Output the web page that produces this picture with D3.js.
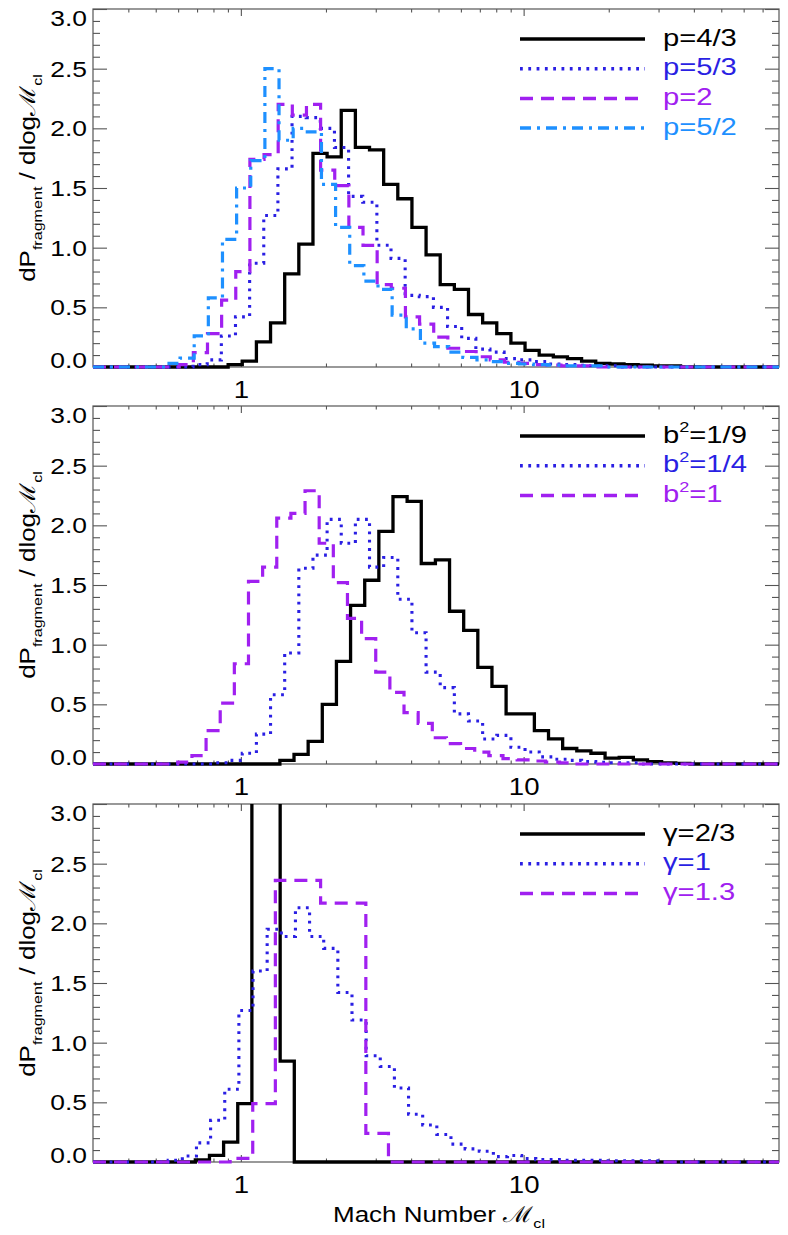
<!DOCTYPE html>
<html>
<head>
<meta charset="utf-8">
<script src="https://cdn.jsdelivr.net/npm/d3@7"></script>
<style>
  body { margin: 0; background: #fff; }
  svg { display: block; }
  text { font-family: "Liberation Sans", Arial, Helvetica, sans-serif; }
</style>
</head>
<body>
<div class="chart"></div>
<script>
// histogram bins are regular in log10(Mach); each series keeps the log10 of its first bin edge
const binWidth = 0.05;

// top panel: p
const p43Start = -0.045;
const p43 = [0.02, 0.05, 0.21, 0.37, 0.78, 1.03, 1.79, 1.76, 2.15, 1.84, 1.82, 1.53, 1.41, 1.17, 0.94, 0.69, 0.65, 0.44, 0.37, 0.28, 0.2, 0.14, 0.1, 0.085, 0.07, 0.05, 0.03, 0.025, 0.02, 0.015, 0.01, 0.01];
const p53Start = -0.169;
const p53 = [0.02, 0.06, 0.26, 0.42, 0.87, 1.27, 1.66, 2.1, 2.09, 2.0, 1.84, 1.43, 1.38, 1.02, 0.91, 0.6, 0.59, 0.5, 0.34, 0.24, 0.15, 0.125, 0.07, 0.06, 0.045, 0.025, 0.02, 0.015, 0.01, 0.01];
const p2Start = -0.218;
const p2 = [0.02, 0.12, 0.28, 0.56, 0.8, 1.74, 1.78, 2.2, 2.11, 2.2, 1.65, 1.52, 1.17, 1.02, 0.69, 0.66, 0.42, 0.36, 0.25, 0.157, 0.13, 0.086, 0.06, 0.04, 0.03, 0.02, 0.015, 0.01, 0.01];
const p52Start = -0.265;
const p52 = [0.03, 0.075, 0.26, 0.58, 1.07, 1.5, 1.73, 2.5, 1.9, 2.0, 1.97, 1.53, 1.17, 0.85, 0.72, 0.65, 0.435, 0.32, 0.2, 0.17, 0.125, 0.08, 0.06, 0.045, 0.03, 0.025, 0.02, 0.015, 0.01, 0.01, 0.01];

// middle panel: b^2
const b19Start = 0.138;
const b19 = [0.03, 0.08, 0.19, 0.5, 0.86, 1.33, 1.54, 1.95, 2.24, 2.2, 1.68, 1.71, 1.28, 1.12, 0.81, 0.65, 0.42, 0.42, 0.28, 0.21, 0.13, 0.11, 0.09, 0.05, 0.055, 0.035, 0.02, 0.01, 0.005];
const b14Start = -0.095;
const b14 = [0.01, 0.03, 0.09, 0.25, 0.58, 0.93, 1.64, 1.75, 2.05, 1.85, 2.05, 1.65, 1.73, 1.38, 1.1, 0.77, 0.64, 0.42, 0.36, 0.21, 0.24, 0.14, 0.1, 0.06, 0.04, 0.03, 0.02, 0.015, 0.01, 0.01];
const b1Start = -0.223;
const b1 = [0.015, 0.07, 0.28, 0.51, 0.84, 1.53, 1.65, 2.06, 2.1, 2.29, 1.85, 1.52, 1.22, 1.05, 0.77, 0.6, 0.43, 0.34, 0.22, 0.17, 0.13, 0.1, 0.07, 0.045, 0.035, 0.025, 0.015, 0.01];

// bottom panel: gamma
const g23Start = -0.161;
const g23 = [0.017, 0.056, 0.167, 0.49, 3.6, 3.6, 0.845];
const g1Start = -0.257;
const g1 = [0.015, 0.05, 0.16, 0.35, 0.61, 1.27, 1.6, 1.95, 1.89, 2.13, 1.89, 1.79, 1.42, 1.19, 0.89, 0.8, 0.62, 0.4, 0.31, 0.23, 0.15, 0.11, 0.09, 0.045, 0.055, 0.028, 0.02, 0.02, 0.015, 0.015, 0.015, 0.01, 0.01, 0.01, 0.01];
const g13Start = -0.038;
const g13Width = 0.08;
const g13 = [0.03, 0.49, 2.36, 2.36, 2.17, 2.17, 0.24];

const pLabels = ["p=4/3", "p=5/3", "p=2", "p=5/2"];
const bLabels = ["=1/9", "=1/4", "=1"];
const gLabels = ["γ=2/3", "γ=1", "γ=1.3"];

const xTicks = [1, 10];
const xMinorTicks = [0.4, 0.5, 0.6, 0.7, 0.8, 0.9, 2, 3, 4, 5, 6, 7, 8, 9, 20, 30, 40, 50, 60, 70];
const yTicks = [0, 0.5, 1, 1.5, 2, 2.5, 3];
const yMinorTicks = d3.range(1, 30).filter(d => d % 5 !== 0).map(d => d / 10);

const svgWidth = 788, svgHeight = 1235;
const plotLeft = 93, plotWidth = 686, plotHeight = 358;
const panelTops = [9, 406, 804];
const sx = 1.2; // the labels use a wide sans face
const axisColor = "#555";

const styles = {
  solid: {color: "#000000", dash: null, width: 3.3},
  dotted: {color: "#2a1fe3", dash: "2.8,5.5", width: 3.1},
  dashed: {color: "#a020f0", dash: "13,8", width: 3.2},
  dashdot: {color: "#1e90ff", dash: "11,6,3,6", width: 3.2}
};

const panels = [
  {top: panelTops[0], series: [
    {label: [{t: pLabels[0]}], values: p43, start: p43Start, width: binWidth, style: "solid"},
    {label: [{t: pLabels[1]}], values: p53, start: p53Start, width: binWidth, style: "dotted"},
    {label: [{t: pLabels[2]}], values: p2, start: p2Start, width: binWidth, style: "dashed"},
    {label: [{t: pLabels[3]}], values: p52, start: p52Start, width: binWidth, style: "dashdot"}
  ]},
  {top: panelTops[1], series: [
    {label: [{t: "b"}, {t: "2", sup: true}, {t: bLabels[0]}], values: b19, start: b19Start, width: binWidth, style: "solid"},
    {label: [{t: "b"}, {t: "2", sup: true}, {t: bLabels[1]}], values: b14, start: b14Start, width: binWidth, style: "dotted"},
    {label: [{t: "b"}, {t: "2", sup: true}, {t: bLabels[2]}], values: b1, start: b1Start, width: binWidth, style: "dashed"}
  ]},
  {top: panelTops[2], series: [
    {label: [{t: gLabels[0]}], values: g23, start: g23Start, width: binWidth, style: "solid"},
    {label: [{t: gLabels[1]}], values: g1, start: g1Start, width: binWidth, style: "dotted"},
    {label: [{t: gLabels[2]}], values: g13, start: g13Start, width: g13Width, style: "dashed"}
  ]}
];

let x = d3.scaleLog().domain([0.3, 80]).range([0, plotWidth]);
let y = d3.scaleLinear().domain([0, 3]).range([plotHeight, 0]);

let line = d3.line()
  .x(d => x(d[0]))
  .y(d => y(d[1]))
  .curve(d3.curveStepAfter);

function histPoints(s) {
  let pts = [[x.domain()[0], 0]];
  s.values.forEach((v, i) => pts.push([Math.pow(10, s.start + i * s.width), v]));
  pts.push([Math.pow(10, s.start + s.values.length * s.width), 0]);
  pts.push([x.domain()[1], 0]);
  return pts;
}

// tspans for sub/superscripts
function addParts(textSel, parts, size) {
  let shift = 0;
  parts.forEach(p => {
    let target = p.sub ? size * 0.3 : p.sup ? -size * 0.45 : 0;
    textSel.append("tspan")
      .attr("dy", target - shift)
      .attr("font-size", p.sub || p.sup ? size * 0.62 : size)
      .text(p.t);
    shift = target;
  });
}

let svg = d3.select(".chart")
  .append("svg")
  .attr("width", svgWidth)
  .attr("height", svgHeight);

panels.forEach((panel, pi) => {
  let g = svg.append("g")
    .attr("transform", `translate(${plotLeft}, ${panel.top})`);

  g.append("clipPath")
    .attr("id", `clip-${pi}`)
    .append("rect")
    .attr("x", -2)
    .attr("y", 0)
    .attr("width", plotWidth + 4)
    .attr("height", plotHeight + 3);

  // ticks point inward on all four sides
  let axes = [
    {axis: d3.axisLeft(y).tickValues(yTicks).tickSize(-14).tickPadding(6).tickFormat(d3.format(".1f")), t: "", labels: "y"},
    {axis: d3.axisLeft(y).tickValues(yMinorTicks).tickSize(-7).tickFormat(""), t: ""},
    {axis: d3.axisRight(y).tickValues(yTicks).tickSize(-14).tickFormat(""), t: `translate(${plotWidth},0)`},
    {axis: d3.axisRight(y).tickValues(yMinorTicks).tickSize(-7).tickFormat(""), t: `translate(${plotWidth},0)`},
    {axis: d3.axisBottom(x).tickValues(xTicks).tickSize(-7).tickFormat(d3.format("d")), t: `translate(0,${plotHeight})`, labels: "x"},
    {axis: d3.axisBottom(x).tickValues(xMinorTicks).tickSize(-3.5).tickFormat(""), t: `translate(0,${plotHeight})`},
    {axis: d3.axisTop(x).tickValues(xTicks).tickSize(-7).tickFormat(""), t: ""},
    {axis: d3.axisTop(x).tickValues(xMinorTicks).tickSize(-3.5).tickFormat(""), t: ""}
  ];
  axes.forEach(a => {
    let ag = g.append("g")
      .attr("transform", a.t)
      .call(a.axis)
      .attr("font-family", null)
      .attr("font-size", 22);
    ag.select(".domain").remove();
    ag.selectAll(".tick line").attr("stroke", axisColor).attr("stroke-width", 1.1);
    if (a.labels === "y") {
      ag.selectAll(".tick text")
        .attr("fill", "#000")
        .attr("dy", null)
        .attr("x", -6 / sx)
        .attr("y", d => d === 3 ? 16 : d === 0 ? 0 : 7.5)
        .attr("transform", `scale(${sx},1)`);
    }
    if (a.labels === "x") {
      ag.selectAll(".tick text")
        .attr("fill", "#000")
        .attr("dy", null)
        .attr("y", 31)
        .attr("font-size", 23)
        .attr("transform", `scale(${sx},1)`);
    }
  });

  g.append("rect")
    .attr("width", plotWidth)
    .attr("height", plotHeight)
    .attr("fill", "none")
    .attr("stroke", axisColor)
    .attr("stroke-width", 1.2);

  g.append("g")
    .attr("clip-path", `url(#clip-${pi})`)
    .selectAll("path")
    .data(panel.series)
    .enter()
    .append("path")
    .attr("d", s => line(histPoints(s)))
    .attr("fill", "none")
    .attr("stroke", s => styles[s.style].color)
    .attr("stroke-width", s => styles[s.style].width)
    .attr("stroke-dasharray", s => styles[s.style].dash)
    .attr("stroke-linejoin", "miter");

  // legend
  let legend = g.append("g").attr("class", "legend");
  panel.series.forEach((s, i) => {
    let ly = 30 + i * 29.7;
    legend.append("line")
      .attr("x1", 427)
      .attr("x2", 552)
      .attr("y1", ly)
      .attr("y2", ly)
      .attr("stroke", styles[s.style].color)
      .attr("stroke-width", styles[s.style].width + 0.3)
      .attr("stroke-dasharray", styles[s.style].dash);
    let lt = legend.append("text")
      .attr("transform", `translate(570, ${ly + 6.5}) scale(1.27,1)`)
      .attr("font-size", 23)
      .attr("fill", styles[s.style].color);
    addParts(lt, s.label, 23);
  });

  // y title
  let yt = svg.append("text")
    .attr("transform", `translate(35, ${panel.top + plotHeight / 2 - 10}) rotate(-90) scale(1.18,1)`)
    .attr("text-anchor", "middle")
    .attr("font-size", 22)
    .attr("fill", "#000");
  addParts(yt, [{t: "dP"}, {t: "fragment", sub: true}, {t: " / dlog"}, {t: "ℳ"}, {t: "cl", sub: true}], 22);
});

let xt = svg.append("text")
  .attr("transform", `translate(439, 1221.5) scale(1.18,1)`)
  .attr("text-anchor", "middle")
  .attr("font-size", 22)
  .attr("fill", "#000");
addParts(xt, [{t: "Mach Number "}, {t: "ℳ"}, {t: "cl", sub: true}], 22);
</script>
</body>
</html>
